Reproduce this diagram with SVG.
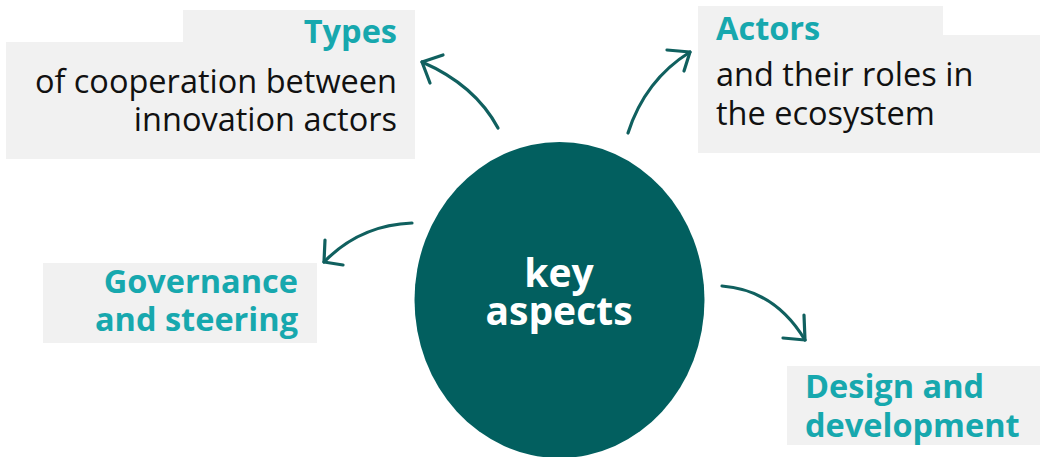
<svg xmlns="http://www.w3.org/2000/svg" width="1040" height="457" viewBox="0 0 1040 457">
<style>
.box{fill:#f1f1f1}
.t{font-family:"Open Sans","Noto Sans",sans-serif;font-size:32.5px}
.h{font-weight:bold;fill:#17a8ae}
.b{fill:#111111}
.c{font-family:"Open Sans","Noto Sans",sans-serif;font-size:39px;font-weight:bold;fill:#ffffff}
.arr{fill:none;stroke:#10605f;stroke-width:3.2;stroke-linecap:round;stroke-linejoin:round}
</style>
<rect width="1040" height="457" fill="#ffffff"/>
<g id="center">
<ellipse cx="559.5" cy="300" rx="145" ry="158" fill="#025f5f"/>
<text class="c" x="559" y="287" text-anchor="middle">key</text>
<text class="c" x="559" y="325" text-anchor="middle">aspects</text>
</g>
<g id="types">
<rect class="box" x="183" y="10" width="232" height="33"/>
<rect class="box" x="6" y="42" width="409" height="117"/>
<text class="t h" x="397" y="43" text-anchor="end" font-size="33">Types</text>
<text class="t b" x="397" y="93" text-anchor="end">of cooperation between</text>
<text class="t b" x="397" y="131" text-anchor="end">innovation actors</text>
</g>
<g id="actors">
<rect class="box" x="698" y="6" width="245" height="30"/>
<rect class="box" x="698" y="35" width="342" height="118"/>
<text class="t h" x="716" y="40">Actors</text>
<text class="t b" x="716" y="86">and their roles in</text>
<text class="t b" x="716" y="125">the ecosystem</text>
</g>
<g id="governance">
<rect class="box" x="43" y="263" width="274" height="80"/>
<text class="t h" x="298" y="293" text-anchor="end">Governance</text>
<text class="t h" x="298" y="331" text-anchor="end">and steering</text>
</g>
<g id="design">
<rect class="box" x="787" y="366" width="253" height="79"/>
<text class="t h" x="805" y="398">Design and</text>
<text class="t h" x="805" y="437">development</text>
</g>
<g id="connectors">
<path class="arr" d="M498,128 Q475,85 422,62"/>
<path class="arr" d="M430,83 L422,62 L443,55"/>
<path class="arr" d="M628,133 Q645,80 690,52"/>
<path class="arr" d="M667,50 L690,52 L684,71"/>
<path class="arr" d="M412,223 Q360,225 324,262"/>
<path class="arr" d="M325,240 L324,262 L343,265"/>
<path class="arr" d="M722,286 Q775,290 805,340"/>
<path class="arr" d="M804,315 L805,340 L783,338"/>
</g>
</svg>
